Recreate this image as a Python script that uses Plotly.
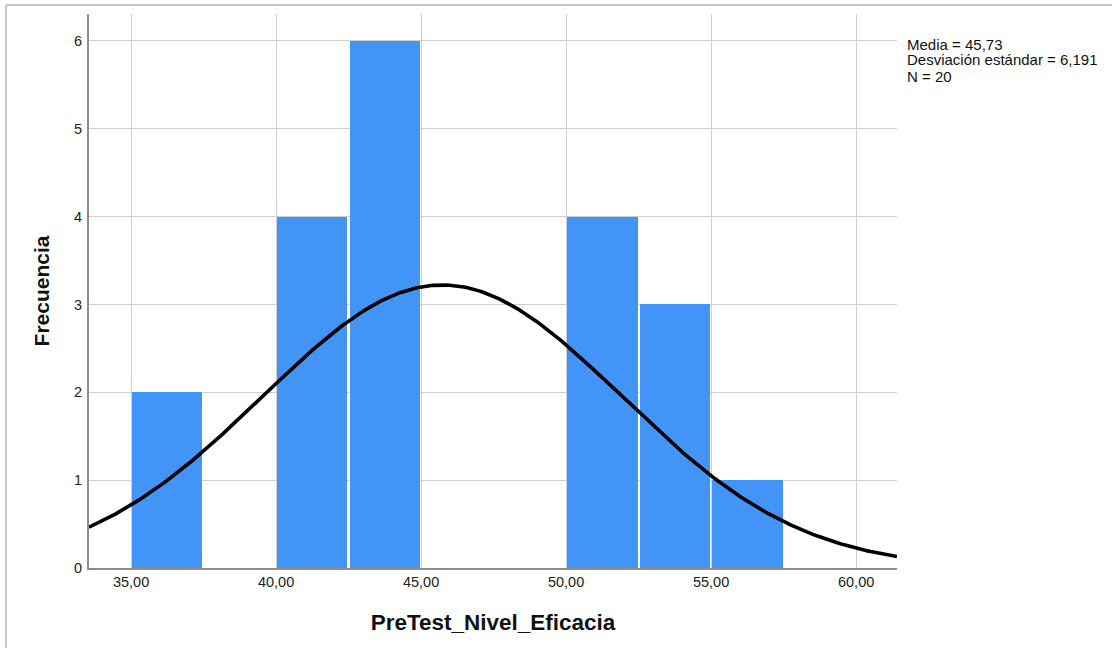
import numpy as np
import plotly.graph_objects as go

# ---- data ----
bin_starts = [35.0, 40.0, 42.5, 50.0, 52.5, 55.0]
bin_counts = [2, 4, 6, 4, 3, 1]
bin_width = 2.5
mean_val = 45.73
std_val = 6.191
n_val = 20
x_tick_vals = [35, 40, 45, 50, 55, 60]
x_tick_text = ["35,00", "40,00", "45,00", "50,00", "55,00", "60,00"]
y_tick_vals = [0, 1, 2, 3, 4, 5, 6]
stats_lines = ["Media = 45,73", "Desviación estándar = 6,191", "N = 20"]
x_title = "PreTest_Nivel_Eficacia"
y_title = "Frecuencia"

X_RANGE = [33.55, 61.41]
Y_RANGE = [0, 6.307]

bar_centers = [s + bin_width / 2 for s in bin_starts]

# normal curve scaled to the histogram (N * bin width * pdf)
xc = np.linspace(X_RANGE[0], X_RANGE[1], 400)
yc = n_val * bin_width * np.exp(-0.5 * ((xc - mean_val) / std_val) ** 2) / (std_val * np.sqrt(2 * np.pi))

FONT = "Liberation Sans, Arial, sans-serif"

fig = go.Figure()
fig.add_trace(go.Bar(
    x=bar_centers, y=bin_counts, width=bin_width - 0.075,
    marker=dict(color="#4394F7", line=dict(width=0)),
    hoverinfo="x+y", showlegend=False,
))
fig.add_trace(go.Scatter(
    x=xc, y=yc, mode="lines",
    line=dict(color="#000000", width=3.6),
    hoverinfo="skip", showlegend=False,
))

L, R, T, B = 89, 215, 14, 80
W, H = 1112, 648
pw = W - L - R
ph = H - T - B

def px_x(p):
    return (p - L) / pw

def px_y(p):
    return (H - B - p) / ph

annotations = []
for i, line in enumerate(stats_lines):
    annotations.append(dict(
        text=line, x=px_x(905), y=px_y(44 + 16 * i), xref="paper", yref="paper",
        xanchor="left", yanchor="middle", showarrow=False,
        font=dict(family=FONT, size=15, color="#111111"),
    ))

shapes = [
    dict(type="line", xref="paper", yref="paper", x0=px_x(6), x1=px_x(6),
         y0=px_y(5), y1=px_y(660), line=dict(color="#c8c8c8", width=2)),
    dict(type="line", xref="paper", yref="paper", x0=px_x(6), x1=px_x(1120),
         y0=px_y(5), y1=px_y(5), line=dict(color="#c8c8c8", width=2)),
]

fig.update_layout(
    width=W, height=H,
    margin=dict(l=L, r=R, t=T, b=B, autoexpand=False),
    paper_bgcolor="white", plot_bgcolor="white",
    bargap=0,
    annotations=annotations,
    shapes=shapes,
    font=dict(family=FONT, color="#222222"),
)
fig.update_xaxes(
    range=X_RANGE, tickmode="array", tickvals=x_tick_vals, ticktext=x_tick_text,
    showgrid=True, gridcolor="#cfcfcf", gridwidth=1.3,
    showline=True, linecolor="#8c8c8c", linewidth=2,
    ticks="", ticklabelstandoff=0,
    tickfont=dict(family=FONT, size=14.5, color="#222222"),
    title=dict(text="<b>" + x_title + "</b>", font=dict(family=FONT, size=22.5, color="#111111"), standoff=25),
    zeroline=False, automargin=False,
)
fig.update_yaxes(
    range=Y_RANGE, tickmode="array", tickvals=y_tick_vals,
    showgrid=True, gridcolor="#cfcfcf", gridwidth=1.3,
    showline=True, linecolor="#8c8c8c", linewidth=2,
    ticks="", ticklabelstandoff=2,
    tickfont=dict(family=FONT, size=14.5, color="#222222"),
    title=dict(text="<b>" + y_title + "</b>", font=dict(family=FONT, size=21, color="#111111"), standoff=19),
    zeroline=False, automargin=False,
)

fig.write_html("out.html", config={"displayModeBar": False},
               post_script="document.body.style.margin='0';document.body.style.overflow='hidden';")
